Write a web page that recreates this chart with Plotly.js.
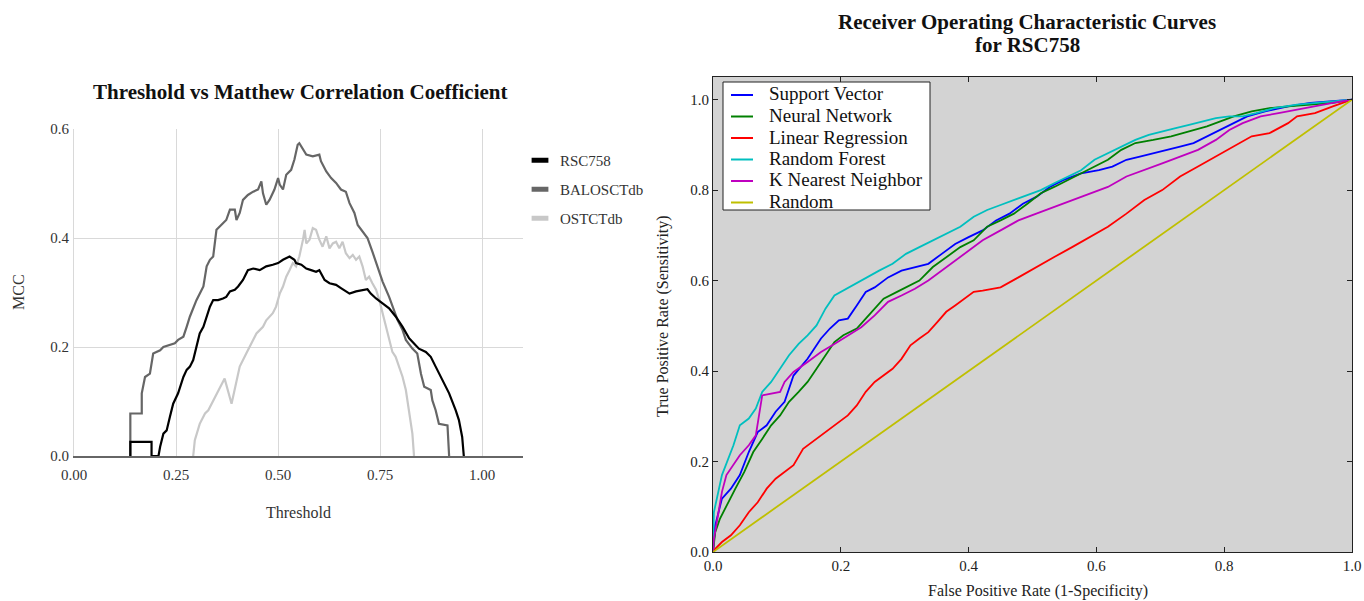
<!DOCTYPE html>
<html>
<head>
<meta charset="utf-8">
<script src="https://cdn.plot.ly/plotly-3.0.1.min.js"></script>
<style>html,body{margin:0;padding:0;background:#fff;}#chart{width:1364px;height:601px;}</style>
</head>
<body>
<div id="chart"></div>
<script>
// ---------- Left chart: Threshold vs MCC ----------
const rscThreshold = [0.138,0.138,0.190,0.190,0.207,0.211,0.219,0.227,0.235,0.243,0.255,0.268,0.276,0.284,0.292,0.300,0.308,0.317,0.325,0.333,0.341,0.353,0.365,0.373,0.382,0.394,0.402,0.414,0.426,0.439,0.455,0.471,0.487,0.500,0.512,0.520,0.528,0.540,0.544,0.557,0.569,0.581,0.593,0.601,0.614,0.626,0.642,0.654,0.675,0.691,0.707,0.719,0.727,0.740,0.756,0.772,0.788,0.805,0.821,0.845,0.862,0.874,0.886,0.902,0.919,0.935,0.943,0.951,0.955];
const rscMcc = [0,0.026,0.026,0,0,0.017,0.041,0.047,0.072,0.096,0.115,0.145,0.158,0.164,0.176,0.200,0.225,0.237,0.256,0.274,0.286,0.286,0.289,0.292,0.302,0.305,0.311,0.323,0.341,0.344,0.341,0.348,0.351,0.354,0.360,0.363,0.366,0.360,0.354,0.351,0.344,0.341,0.338,0.341,0.323,0.317,0.314,0.308,0.298,0.302,0.305,0.306,0.298,0.289,0.280,0.271,0.256,0.237,0.216,0.197,0.191,0.182,0.164,0.139,0.115,0.084,0.066,0.035,0];

const baloThreshold = [0.138,0.138,0.166,0.166,0.174,0.186,0.194,0.211,0.219,0.247,0.255,0.268,0.276,0.284,0.300,0.317,0.325,0.333,0.341,0.349,0.357,0.373,0.382,0.394,0.398,0.406,0.414,0.426,0.439,0.451,0.459,0.463,0.471,0.479,0.491,0.500,0.504,0.512,0.520,0.532,0.540,0.548,0.552,0.561,0.569,0.585,0.601,0.605,0.618,0.630,0.642,0.654,0.666,0.675,0.687,0.695,0.707,0.719,0.731,0.744,0.756,0.772,0.780,0.793,0.805,0.813,0.829,0.841,0.850,0.858,0.874,0.878,0.886,0.894,0.915,0.919];
const baloMcc = [0,0.078,0.078,0.115,0.145,0.151,0.188,0.194,0.200,0.207,0.213,0.219,0.237,0.256,0.286,0.311,0.348,0.360,0.366,0.415,0.421,0.433,0.452,0.452,0.433,0.446,0.470,0.479,0.485,0.489,0.504,0.482,0.461,0.470,0.489,0.510,0.498,0.489,0.516,0.525,0.544,0.571,0.574,0.562,0.553,0.550,0.553,0.541,0.522,0.510,0.501,0.489,0.485,0.464,0.446,0.424,0.412,0.400,0.375,0.348,0.320,0.292,0.274,0.249,0.231,0.213,0.197,0.188,0.151,0.127,0.121,0.102,0.084,0.059,0.056,0];

const ostThreshold = [0.292,0.296,0.308,0.321,0.329,0.341,0.357,0.369,0.386,0.394,0.406,0.422,0.439,0.447,0.455,0.463,0.471,0.487,0.495,0.504,0.512,0.520,0.528,0.536,0.544,0.552,0.561,0.565,0.569,0.577,0.585,0.593,0.601,0.609,0.618,0.626,0.634,0.642,0.650,0.658,0.666,0.675,0.683,0.691,0.699,0.707,0.715,0.723,0.731,0.740,0.748,0.756,0.764,0.772,0.780,0.788,0.797,0.805,0.813,0.821,0.825,0.829,0.833];
const ostMcc = [0,0.029,0.059,0.078,0.084,0.102,0.127,0.142,0.096,0.121,0.164,0.188,0.213,0.225,0.231,0.237,0.249,0.262,0.274,0.298,0.311,0.329,0.341,0.354,0.348,0.366,0.397,0.415,0.390,0.397,0.418,0.415,0.397,0.384,0.403,0.381,0.390,0.393,0.381,0.393,0.372,0.363,0.369,0.360,0.366,0.348,0.323,0.329,0.317,0.305,0.286,0.262,0.237,0.213,0.191,0.182,0.164,0.145,0.121,0.084,0.063,0.041,0];

const mccNames = ["RSC758","BALOSCTdb","OSTCTdb"];
const mccColors = ["#000000","#666666","#c8c8c8"];
const thresholdTicks = [0,0.25,0.5,0.75,1.0];
const thresholdTickText = ["0.00","0.25","0.50","0.75","1.00"];
const mccTicks = [0,0.2,0.4,0.6];

// ---------- Right chart: ROC curves ----------
const svFpr = [0,0.0035,0.014,0.028,0.042,0.056,0.070,0.084,0.098,0.112,0.126,0.148,0.169,0.183,0.197,0.211,0.225,0.239,0.253,0.274,0.295,0.316,0.337,0.358,0.379,0.400,0.422,0.443,0.464,0.485,0.506,0.527,0.548,0.576,0.604,0.625,0.647,0.668,0.689,0.710,0.731,0.752,0.773,0.794,0.815,0.836,0.864,0.900,0.935,0.970,1.0];
const svTpr = [0,0.059,0.118,0.140,0.170,0.221,0.265,0.280,0.310,0.332,0.390,0.427,0.472,0.494,0.512,0.516,0.545,0.575,0.585,0.607,0.622,0.630,0.637,0.659,0.681,0.696,0.711,0.733,0.748,0.770,0.785,0.807,0.822,0.837,0.844,0.852,0.867,0.874,0.881,0.889,0.896,0.904,0.919,0.933,0.948,0.963,0.974,0.985,0.993,0.996,1.0];

const nnFpr = [0,0.0035,0.011,0.021,0.035,0.049,0.063,0.077,0.091,0.105,0.119,0.134,0.148,0.162,0.176,0.190,0.204,0.225,0.239,0.253,0.267,0.288,0.309,0.323,0.344,0.365,0.387,0.408,0.429,0.450,0.471,0.492,0.513,0.534,0.555,0.576,0.597,0.618,0.639,0.661,0.689,0.717,0.745,0.773,0.794,0.815,0.843,0.871,0.900,0.935,0.970,1.0];
const nnTpr = [0,0.044,0.074,0.103,0.140,0.177,0.221,0.250,0.280,0.302,0.332,0.354,0.376,0.405,0.435,0.464,0.479,0.494,0.516,0.538,0.560,0.575,0.590,0.600,0.630,0.652,0.674,0.689,0.719,0.733,0.748,0.770,0.793,0.807,0.822,0.837,0.852,0.867,0.889,0.904,0.911,0.919,0.930,0.941,0.952,0.963,0.974,0.981,0.985,0.989,0.993,1.0];

const lrFpr = [0,0.0035,0.014,0.028,0.042,0.056,0.070,0.084,0.098,0.112,0.126,0.141,0.155,0.169,0.183,0.197,0.211,0.225,0.239,0.253,0.267,0.281,0.295,0.309,0.323,0.337,0.351,0.365,0.379,0.394,0.408,0.422,0.450,0.478,0.506,0.534,0.562,0.590,0.618,0.647,0.675,0.703,0.731,0.759,0.787,0.815,0.843,0.871,0.900,0.914,0.942,0.970,1.0];
const lrTpr = [0,0.007,0.022,0.037,0.059,0.088,0.110,0.140,0.162,0.177,0.192,0.228,0.243,0.258,0.273,0.287,0.302,0.324,0.354,0.376,0.391,0.405,0.427,0.457,0.472,0.486,0.508,0.531,0.545,0.560,0.575,0.578,0.585,0.607,0.630,0.652,0.674,0.696,0.719,0.748,0.778,0.800,0.830,0.852,0.874,0.896,0.919,0.926,0.948,0.963,0.970,0.985,1.0];

const rfFpr = [0,0.0014,0.014,0.021,0.032,0.042,0.056,0.067,0.077,0.091,0.105,0.119,0.134,0.148,0.162,0.176,0.190,0.204,0.218,0.239,0.260,0.281,0.302,0.323,0.344,0.365,0.387,0.408,0.429,0.450,0.471,0.492,0.513,0.534,0.555,0.576,0.597,0.618,0.639,0.661,0.682,0.703,0.724,0.745,0.766,0.787,0.808,0.829,0.850,0.878,0.914,0.949,1.0];
const rfTpr = [0,0.088,0.170,0.195,0.236,0.280,0.295,0.317,0.354,0.376,0.405,0.435,0.460,0.479,0.501,0.538,0.567,0.578,0.590,0.607,0.622,0.637,0.659,0.674,0.689,0.704,0.719,0.741,0.756,0.767,0.778,0.789,0.800,0.815,0.830,0.844,0.867,0.881,0.896,0.911,0.922,0.930,0.937,0.944,0.952,0.959,0.963,0.963,0.970,0.981,0.989,0.993,1.0];

const knnFpr = [0,0.0014,0.007,0.014,0.021,0.032,0.042,0.056,0.067,0.077,0.091,0.105,0.112,0.126,0.148,0.169,0.190,0.211,0.232,0.253,0.274,0.295,0.316,0.337,0.365,0.394,0.422,0.450,0.478,0.506,0.534,0.562,0.590,0.618,0.647,0.675,0.703,0.731,0.759,0.787,0.808,0.829,0.857,0.885,0.914,0.942,0.970,1.0];
const knnTpr = [0,0.029,0.074,0.133,0.170,0.192,0.214,0.236,0.258,0.346,0.350,0.354,0.376,0.398,0.420,0.442,0.460,0.479,0.497,0.523,0.553,0.567,0.582,0.600,0.630,0.659,0.689,0.711,0.733,0.748,0.763,0.778,0.793,0.807,0.830,0.844,0.859,0.874,0.889,0.911,0.933,0.948,0.963,0.970,0.978,0.985,0.993,1.0];

const randomFpr = [0,1];
const randomTpr = [0,1];

const rocNames = ["Support Vector","Neural Network","Linear Regression","Random Forest","K Nearest Neighbor","Random"];
const rocColors = ["#0000ff","#008000","#ff0000","#00bfbf","#bf00bf","#bfbf00"];
const rocTicks = [0,0.2,0.4,0.6,0.8,1.0];

const SERIF = "Liberation Serif, Times New Roman, serif";
const W = 1364, H = 601;
const fx = px => px / W;
const fy = py => 1 - py / H;

const traces = [];
const mccX = [rscThreshold, baloThreshold, ostThreshold];
const mccY = [rscMcc, baloMcc, ostMcc];
[2,1,0].forEach(i => {
  traces.push({x: mccX[i], y: mccY[i], type: "scatter", mode: "lines", xaxis: "x", yaxis: "y",
    line: {color: mccColors[i], width: 2.2}, showlegend: false, hoverinfo: "skip", name: mccNames[i]});
});
mccNames.forEach((n, i) => {
  traces.push({x: [null], y: [null], type: "scatter", mode: "markers", xaxis: "x", yaxis: "y",
    name: n, legend: "legend", legendgroup: "g" + i,
    marker: {symbol: "line-ew", size: 12, color: mccColors[i], line: {color: mccColors[i], width: 5}}});
});
const rocX = [svFpr, nnFpr, lrFpr, rfFpr, knnFpr, randomFpr];
const rocY = [svTpr, nnTpr, lrTpr, rfTpr, knnTpr, randomTpr];
rocNames.forEach((n, i) => {
  traces.push({x: rocX[i], y: rocY[i], type: "scatter", mode: "lines", xaxis: "x2", yaxis: "y2",
    name: n, showlegend: false, line: {color: rocColors[i], width: 1.8}});
});

// ROC legend box (matplotlib style, tight rows)
const shapes = [
  {type: "rect", xref: "x2 domain", yref: "y2 domain", x0: 0, x1: 1, y0: 0, y1: 1,
    fillcolor: "#d3d3d3", line: {width: 0}, layer: "below"},
  {type: "rect", xref: "paper", yref: "paper", x0: fx(723), x1: fx(930), y0: fy(210), y1: fy(82),
    fillcolor: "#ffffff", line: {color: "#222", width: 1}, layer: "above"}
];
const annotations = [
  {text: "<b>Threshold vs Matthew Correlation Coefficient</b>", xref: "paper", yref: "paper",
    x: fx(300), y: fy(92), xanchor: "center", yanchor: "middle", showarrow: false,
    font: {family: SERIF, size: 21, color: "#111"}},
  {text: "Threshold", xref: "paper", yref: "paper", x: fx(298), y: fy(512), xanchor: "center", yanchor: "middle",
    showarrow: false, font: {family: SERIF, size: 16, color: "#333"}},
  {text: "MCC", xref: "paper", yref: "paper", x: fx(18), y: fy(292), xanchor: "center", yanchor: "middle",
    textangle: -90, showarrow: false, font: {family: SERIF, size: 16, color: "#333"}},
  {text: "<b>Receiver Operating Characteristic Curves</b>", xref: "paper", yref: "paper",
    x: fx(1027), y: fy(22), xanchor: "center", yanchor: "middle", showarrow: false,
    font: {family: SERIF, size: 21, color: "#111"}},
  {text: "<b>for RSC758</b>", xref: "paper", yref: "paper",
    x: fx(1027), y: fy(45), xanchor: "center", yanchor: "middle", showarrow: false,
    font: {family: SERIF, size: 21, color: "#111"}},
  {text: "False Positive Rate (1-Specificity)", xref: "paper", yref: "paper", x: fx(1038), y: fy(591),
    xanchor: "center", yanchor: "middle", showarrow: false, font: {family: SERIF, size: 16, color: "#222"}},
  {text: "True Positive Rate (Sensitivity)", xref: "paper", yref: "paper", x: fx(663), y: fy(316),
    xanchor: "center", yanchor: "middle", textangle: -90, showarrow: false, font: {family: SERIF, size: 16, color: "#222"}}
];
rocNames.forEach((n, i) => {
  const cy = 95 + i * 21.5;
  shapes.push({type: "line", xref: "paper", yref: "paper", x0: fx(731), x1: fx(753), y0: fy(cy), y1: fy(cy),
    line: {color: rocColors[i], width: 2}, layer: "above"});
  annotations.push({text: n, xref: "paper", yref: "paper", x: fx(767), y: fy(cy - 1), xanchor: "left", yanchor: "middle",
    showarrow: false, font: {family: SERIF, size: 19, color: "#111"}});
});

const layout = {
  width: W, height: H,
  margin: {l: 0, r: 0, t: 0, b: 0},
  paper_bgcolor: "#ffffff",
  plot_bgcolor: "rgba(0,0,0,0)",
  font: {family: SERIF, color: "#222", size: 15},
  showlegend: true,
  xaxis: {domain: [fx(74), fx(523)], range: [0, 1.1], tickvals: thresholdTicks, ticktext: thresholdTickText,
    showgrid: true, gridcolor: "#d9d9d9", gridwidth: 1, zeroline: false, ticklabelstandoff: 4,
    showline: true, linecolor: "#666", linewidth: 1.5, ticks: "", tickfont: {family: SERIF, size: 15, color: "#333"}},
  yaxis: {domain: [fy(456), fy(129)], range: [0, 0.6], tickvals: mccTicks, tickformat: ".1f",
    showgrid: true, gridcolor: "#d9d9d9", gridwidth: 1, zeroline: false, ticklabelstandoff: 1,
    showline: true, linecolor: "#d9d9d9", linewidth: 1, ticks: "", tickfont: {family: SERIF, size: 15, color: "#333"}},
  xaxis2: {domain: [fx(713), fx(1352)], range: [0, 1], tickvals: rocTicks, tickformat: ".1f",
    showgrid: false, zeroline: false, showline: true, mirror: "allticks", linecolor: "#222", linewidth: 1,
    ticks: "inside", ticklen: 5, tickcolor: "#222", tickfont: {family: SERIF, size: 15, color: "#222"}, anchor: "y2"},
  yaxis2: {domain: [fy(552), fy(77)], range: [0, 1.05], tickvals: rocTicks, tickformat: ".1f",
    showgrid: false, zeroline: false, showline: true, mirror: "allticks", linecolor: "#222", linewidth: 1,
    ticks: "inside", ticklen: 5, tickcolor: "#222", tickfont: {family: SERIF, size: 15, color: "#222"}, anchor: "x2"},
  shapes: shapes,
  legend: {x: fx(520), y: fy(144), xanchor: "left", yanchor: "top", bgcolor: "rgba(0,0,0,0)",
    borderwidth: 0, font: {family: SERIF, size: 15, color: "#333"}, tracegroupgap: 6.5, traceorder: "grouped",
    itemwidth: 30},
  annotations: annotations
};

Plotly.newPlot("chart", traces, layout, {staticPlot: true, displayModeBar: false});
</script>
</body>
</html>
